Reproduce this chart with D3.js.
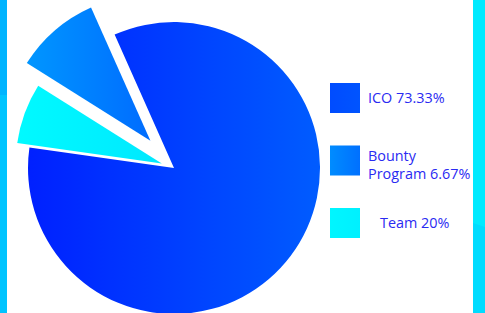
<!DOCTYPE html>
<html>
<head>
<meta charset="utf-8">
<script src="https://cdn.jsdelivr.net/npm/d3@7"></script>
<style>
  body { margin: 0; background: #fff; }
  svg { display: block; }
  text { font-family: "Open Sans", "Noto Sans", sans-serif; }
</style>
</head>
<body>
<svg id="chart" width="485" height="313"></svg>
<script>
// slice order as drawn, clockwise from the top-left edge of the big slice
const labels = ["ICO", "Team", "Bounty"];
const sliceValues = [83.9, 6.7, 9.4];
const explode = [0, 13, 36];
const legendLines = [["ICO 73.33%"], ["Bounty", "Program 6.67%"], ["Team 20%"]];
const legendKeys = ["ICO", "Bounty", "Team"];

const gradStops = {
  ICO: ["#0020ff", "#005cff"],
  Bounty: ["#0096ff", "#006cff"],
  Team: ["#00faff", "#00e8ff"]
};
const legendStops = {
  ICO: ["#004cff", "#0054ff"],
  Bounty: ["#008cff", "#0070ff"],
  Team: ["#00f6ff", "#00f0ff"]
};

const svg = d3.select("#chart");
const W = 485, H = 313;
const cx = 174, cy = 168, radius = 146;

const defs = svg.append("defs");
function addGrad(id, c) {
  const g = defs.append("linearGradient")
    .attr("id", id)
    .attr("x1", "0%").attr("x2", "100%")
    .attr("y1", "0%").attr("y2", "0%");
  g.append("stop").attr("offset", "0%").attr("stop-color", c[0]);
  g.append("stop").attr("offset", "100%").attr("stop-color", c[1]);
}
Object.entries(gradStops).forEach(([k, c]) => addGrad("grad-" + k, c));
Object.entries(legendStops).forEach(([k, c]) => addGrad("lgrad-" + k, c));

// side strips
svg.append("rect").attr("x", 0).attr("y", 0).attr("width", 7).attr("height", 95).attr("fill", "#00b4ff");
svg.append("rect").attr("x", 0).attr("y", 95).attr("width", 7).attr("height", H - 95).attr("fill", "#00c4ff");
svg.append("rect").attr("x", 473).attr("y", 0).attr("width", 12).attr("height", H).attr("fill", "#00eaff");
svg.append("path")
  .attr("d", `M473,223 L485,227 L485,${H} L473,${H} Z`)
  .attr("fill", "#00dcff");

const deg = Math.PI / 180;
const pie = d3.pie()
  .sort(null)
  .value(d => d)
  .startAngle(-24 * deg)
  .endAngle(-24 * deg + 2 * Math.PI);

const arc = d3.arc().innerRadius(0).outerRadius(radius);

const g = svg.append("g").attr("transform", `translate(${cx},${cy})`);

g.selectAll("path.slice")
  .data(pie(sliceValues))
  .join("path")
  .attr("class", "slice")
  .attr("d", arc)
  .attr("fill", (d, i) => `url(#grad-${labels[i]})`)
  .attr("transform", (d, i) => {
    const a = (d.startAngle + d.endAngle) / 2;
    return `translate(${Math.sin(a) * explode[i]},${-Math.cos(a) * explode[i]})`;
  });

// legend
const legendY = d3.scalePoint().domain(legendKeys).range([83, 208]);
const textX = { ICO: 368, Bounty: 368, Team: 380 };

const lg = svg.selectAll("g.legend")
  .data(legendKeys)
  .join("g")
  .attr("class", "legend")
  .attr("transform", d => `translate(330,${legendY(d)})`);

lg.append("rect")
  .attr("width", 30)
  .attr("height", 30)
  .attr("fill", d => `url(#lgrad-${d})`);

lg.append("text")
  .attr("fill", "#2a2af2")
  .style("font-size", "14.4px")
  .each(function (d, i) {
    const lines = legendLines[i];
    const t = d3.select(this);
    const y0 = lines.length > 1 ? 15 : 20;
    lines.forEach((l, j) => {
      t.append("tspan")
        .attr("x", textX[d] - 330)
        .attr("y", y0 + j * 18.5)
        .text(l);
    });
  });
</script>
</body>
</html>
